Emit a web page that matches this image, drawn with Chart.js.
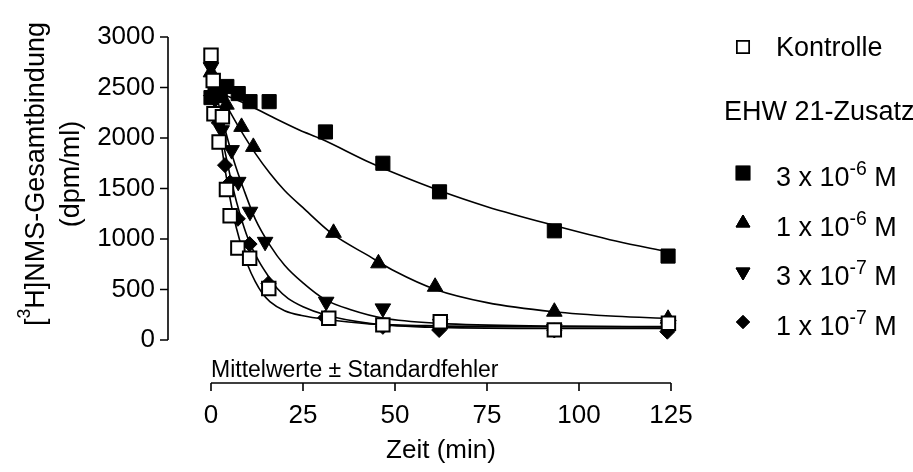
<!DOCTYPE html>
<html>
<head>
<meta charset="utf-8">
<title>[3H]NMS-Dissoziation</title>
<script src="https://cdn.jsdelivr.net/npm/chart.js@4.4.1/dist/chart.umd.min.js"></script>
<style>
  html, body { margin: 0; padding: 0; background: #fff; }
  #wrap { width: 913px; height: 472px; }
</style>
</head>
<body>
<div id="wrap"><canvas id="dissChart" width="913" height="472"></canvas></div>
<script>
// Messpunkte: Zeit (min) / Gesamtbindung (dpm/ml)
const kontrolleZeit = [0, 0.6, 0.8, 2.2, 3.1, 4.2, 5.2, 7.3, 10.5, 15.7, 32, 46.7, 62.3, 93.3, 124.3];
const kontrolleWerte = [2820, 2570, 2240, 1960, 2210, 1490, 1230, 910, 810, 510, 215, 150, 180, 100, 165];

const ehw3e6Zeit = [0, 1.1, 2.5, 4.3, 7.4, 10.6, 15.8, 31.1, 46.7, 62.1, 93.3, 124.2];
const ehw3e6Werte = [2400, 2480, 2420, 2510, 2440, 2360, 2360, 2060, 1750, 1467, 1081, 831];

const ehw1e6Zeit = [0, 2.1, 4.2, 8.3, 11.5, 33.3, 45.5, 60.9, 93.3, 124.2];
const ehw1e6Werte = [2650, 2400, 2330, 2110, 1912, 1061, 759, 527, 280, 210];

const ehw3e7Zeit = [0, 2.9, 5.6, 7.4, 10.6, 14.7, 31.3, 46.7, 62.3, 93.3, 124.3];
const ehw3e7Werte = [2700, 2077, 1880, 1566, 1270, 972, 379, 313, 160, 110, 150];

const ehw1e7Zeit = [0, 1.1, 2.1, 3.8, 5.2, 7.3, 10.5, 15.6, 31, 46.7, 62, 93.3, 124];
const ehw1e7Werte = [2420, 2380, 2150, 1731, 1560, 1200, 950, 560, 220, 130, 99, 95, 82];

// Angepasste Dissoziationskurven
const kontrolleFitZeit = [0, 2, 4, 6, 8, 10, 12, 14, 16, 20, 25, 31, 43, 62, 93, 124];
const kontrolleFitWerte = [2700, 2150, 1650, 1250, 960, 740, 580, 460, 380, 290, 240, 205, 160, 140, 132, 130];

const ehw3e6FitZeit = [0, 10, 16, 24, 30, 43, 50, 62, 75, 93, 110, 124];
const ehw3e6FitWerte = [2480, 2330, 2220, 2080, 1990, 1760, 1650, 1480, 1320, 1137, 980, 873];

const ehw1e6FitZeit = [0, 4, 8, 12, 16, 20, 25, 33, 43, 50, 61, 75, 93, 110, 124];
const ehw1e6FitWerte = [2550, 2330, 2080, 1850, 1650, 1480, 1310, 1050, 830, 680, 500, 370, 280, 235, 215];

const ehw3e7FitZeit = [0, 3, 6, 9, 12, 16, 20, 25, 31, 38, 47, 62, 93, 124];
const ehw3e7FitWerte = [2650, 2200, 1800, 1480, 1200, 940, 740, 565, 400, 300, 215, 165, 138, 132];

const ehw1e7FitZeit = [0, 2, 4, 6, 8, 10, 13, 16, 18, 21, 25, 31, 43, 62, 93, 124];
const ehw1e7FitWerte = [2600, 2200, 1830, 1500, 1230, 1010, 780, 610, 510, 410, 330, 250, 165, 125, 115, 115];

const legendLabels = ['Kontrolle', '3 x 10^-6 M', '1 x 10^-6 M', '3 x 10^-7 M', '1 x 10^-7 M'];
const legendHeader = 'EHW 21-Zusatz';
const xTitle = 'Zeit (min)';
const yTitle = ['[^3H]NMS-Gesamtbindung', '(dpm/ml)'];
const footNote = 'Mittelwerte \u00B1 Standardfehler';

const FONT = "'Liberation Sans', Arial, sans-serif";

function pts(xs, ys) {
  return xs.map((x, i) => ({ x: x, y: ys[i] }));
}

function markerSet(label, xs, ys, style, opts) {
  return Object.assign({
    label: label,
    data: pts(xs, ys),
    pointStyle: style,
    pointBackgroundColor: '#000',
    pointBorderColor: '#000',
    pointBorderWidth: 1,
    showLine: false,
    clip: false
  }, opts);
}

function fitSet(xs, ys) {
  return {
    label: 'fit',
    data: pts(xs, ys),
    showLine: true,
    borderColor: '#000',
    borderWidth: 1.6,
    pointRadius: 0,
    cubicInterpolationMode: 'monotone',
    fill: false,
    order: 10,
    clip: false
  };
}

const markers = [
  markerSet(legendLabels[0], kontrolleZeit, kontrolleWerte, 'rect',
    { pointRadius: 9.5, pointBackgroundColor: '#fff', pointBorderWidth: 2, order: 0, legendRadius: 8.5 }),
  markerSet(legendLabels[1], ehw3e6Zeit, ehw3e6Werte, 'rect', { pointRadius: 10, order: 4, legendRadius: 9.5 }),
  markerSet(legendLabels[2], ehw1e6Zeit, ehw1e6Werte, 'triangle', { pointRadius: 9, order: 3, legendRadius: 8 }),
  markerSet(legendLabels[3], ehw3e7Zeit, ehw3e7Werte, 'triangle', { pointRadius: 9, pointRotation: 180, order: 2, legendRadius: 8 }),
  markerSet(legendLabels[4], ehw1e7Zeit, ehw1e7Werte, 'rectRot', { pointRadius: 7.5, order: 1, legendRadius: 6.5 })
];

const fits = [
  fitSet(kontrolleFitZeit, kontrolleFitWerte),
  fitSet(ehw3e6FitZeit, ehw3e6FitWerte),
  fitSet(ehw1e6FitZeit, ehw1e6FitWerte),
  fitSet(ehw3e7FitZeit, ehw3e7FitWerte),
  fitSet(ehw1e7FitZeit, ehw1e7FitWerte)
];

// draws "a^b c" with b as superscript, returns width
function supText(ctx, text, x, y, size, measureOnly, supScale) {
  const k = supScale || 0.65;
  const m = text.match(/^(.*?)\^(\S+?)(\D.*)?$/) || [null, text, '', ''];
  const parts = [[m[1], size, 0], [m[2], size * k, -size * 0.42], [m[3] || '', size, 0]];
  let cx = x;
  parts.forEach(p => {
    if (!p[0]) return;
    ctx.font = p[1] + 'px ' + FONT;
    if (!measureOnly) ctx.fillText(p[0], cx, y + p[2]);
    cx += ctx.measureText(p[0]).width;
  });
  return cx - x;
}

// Prism-style axes, pulled away from the data area
const offsetAxes = {
  id: 'offsetAxes',
  afterDraw(chart) {
    const { ctx, chartArea, scales: { x, y } } = chart;
    const gap = 43, tick = 8;
    ctx.save();
    ctx.strokeStyle = '#000';
    ctx.lineWidth = 1.6;
    ctx.beginPath();
    const ax = chartArea.left - gap;
    ctx.moveTo(ax, y.getPixelForValue(y.max));
    ctx.lineTo(ax, y.getPixelForValue(y.min));
    y.ticks.forEach(t => {
      const py = y.getPixelForValue(t.value);
      ctx.moveTo(ax - tick, py);
      ctx.lineTo(ax, py);
    });
    const ay = chartArea.bottom + gap;
    ctx.moveTo(x.getPixelForValue(x.min), ay);
    ctx.lineTo(x.getPixelForValue(x.max), ay);
    x.ticks.forEach(t => {
      const px = x.getPixelForValue(t.value);
      ctx.moveTo(px, ay);
      ctx.lineTo(px, ay + tick);
    });
    ctx.stroke();

    // y title, two rotated lines
    ctx.fillStyle = '#000';
    ctx.textBaseline = 'middle';
    ctx.textAlign = 'left';
    ctx.translate(37, 174);
    ctx.rotate(-Math.PI / 2);
    yTitle.forEach((line, i) => {
      const w = supText(ctx, line, 0, 0, 27, true);
      supText(ctx, line, -w / 2, i * 35, 27, false);
    });
    ctx.restore();

    ctx.save();
    ctx.fillStyle = '#000';
    ctx.textBaseline = 'alphabetic';
    ctx.font = '23px ' + FONT;
    ctx.fillText(footNote, chartArea.left, chartArea.bottom + 37);
    ctx.restore();
  }
};

// legend at the right, with superscript exponents
const sideLegend = {
  id: 'sideLegend',
  afterDraw(chart) {
    const ctx = chart.ctx;
    const symX = 743, textX = 776;
    const baselines = [56, 186, 236, 285, 335];
    ctx.save();
    ctx.fillStyle = '#000';
    ctx.textBaseline = 'alphabetic';
    ctx.textAlign = 'left';
    markers.forEach((ds, i) => {
      const b = baselines[i];
      Chart.helpers.drawPoint(ctx, {
        pointStyle: ds.pointStyle,
        rotation: ds.pointRotation || 0,
        radius: ds.legendRadius,
        borderWidth: ds.pointBorderWidth
      }, symX, b - (i === 0 ? 9 : 13));
      ctx.fillStyle = ds.pointBackgroundColor;
      ctx.strokeStyle = '#000';
      ctx.lineWidth = ds.pointBorderWidth === 2 ? 1.5 : 1;
      ctx.fill();
      ctx.stroke();
      ctx.fillStyle = '#000';
      supText(ctx, ds.label, textX, b, 27, false, 0.72);
    });
    ctx.font = '27px ' + FONT;
    ctx.fillText(legendHeader, 724, 120);
    ctx.restore();
  }
};

const plainTick = v => String(v);

new Chart(document.getElementById('dissChart'), {
  type: 'scatter',
  data: { datasets: markers.concat(fits) },
  options: {
    responsive: false,
    animation: false,
    devicePixelRatio: 1,
    events: [],
    layout: { padding: { top: 37, right: 242, bottom: 0, left: 0 } },
    plugins: { legend: { display: false }, tooltip: { enabled: false } },
    scales: {
      x: {
        type: 'linear',
        min: 0,
        max: 125,
        afterFit(scale) {
          scale.height = 132;
          scale.paddingLeft = 0;
          scale.paddingRight = 0;
        },
        grid: { display: false, drawTicks: false },
        border: { display: false },
        ticks: { stepSize: 25, padding: 60, color: '#000', font: { family: FONT, size: 26 }, callback: plainTick },
        title: {
          display: true,
          text: xTitle,
          color: '#000',
          font: { family: FONT, size: 26 },
          padding: { top: 0, bottom: 6 }
        }
      },
      y: {
        type: 'linear',
        min: 0,
        max: 3000,
        afterFit(scale) {
          scale.width = 211;
          scale.paddingTop = 0;
          scale.paddingBottom = 0;
        },
        grid: { display: false, drawTicks: false },
        border: { display: false },
        ticks: { stepSize: 500, padding: 56, color: '#000', font: { family: FONT, size: 26 }, callback: plainTick }
      }
    }
  },
  plugins: [offsetAxes, sideLegend]
});
</script>
</body>
</html>
